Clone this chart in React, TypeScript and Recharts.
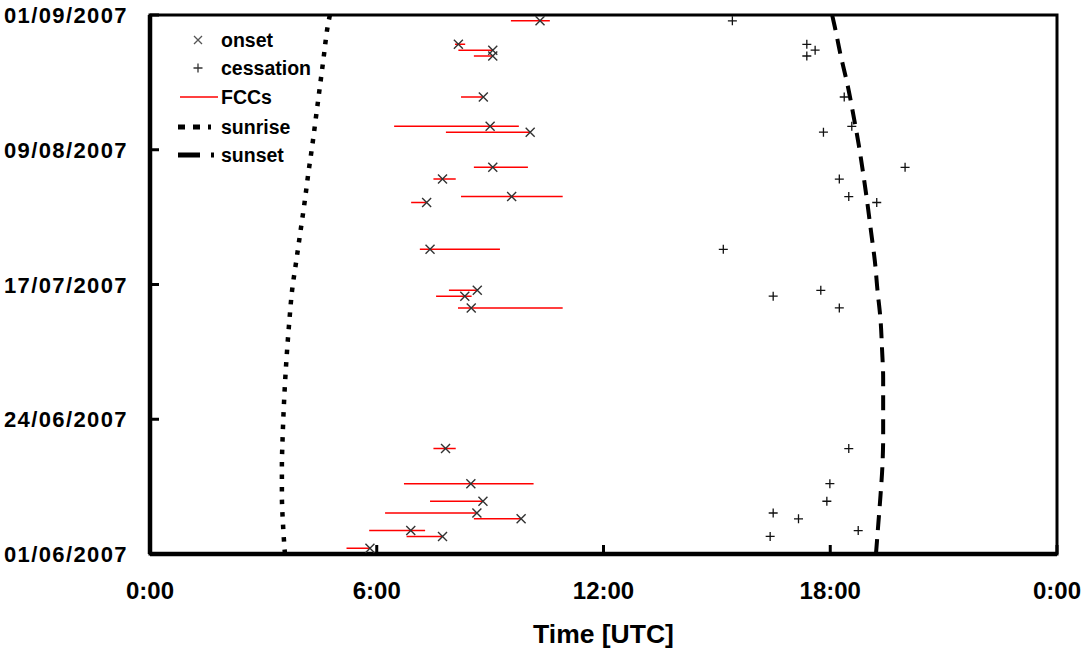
import { ComposedChart, Line, Scatter, XAxis, YAxis, ReferenceArea, Legend, Label } from "recharts";

const FONT = '"Liberation Sans", Arial, sans-serif';

// y = days since 01/06/2007, x = hour of day (UTC)
const dateTicks = [0, 23, 46, 69, 92];
const dateLabels = ["01/06/2007", "24/06/2007", "17/07/2007", "09/08/2007", "01/09/2007"];
const hourTicks = [0, 6, 12, 18, 24];
const hourLabels = ["0:00", "6:00", "12:00", "18:00", "0:00"];

// onsets and the FCC span for each day
const onsetDay = [1, 3, 4, 6, 7, 9, 12, 18, 42, 44, 45, 52, 60, 61, 64, 66, 72, 73, 78, 85, 86, 87, 91];
const onsetTime = [5.82, 7.74, 6.9, 9.82, 8.65, 8.81, 8.49, 7.82, 8.5, 8.33, 8.66, 7.41, 7.32, 9.57, 7.74, 9.07, 10.06, 9.0, 8.82, 9.07, 9.07, 8.16, 10.32];
const fccStart = [5.2, 6.79, 5.8, 8.57, 6.22, 7.41, 6.72, 7.5, 8.15, 7.57, 7.91, 7.14, 6.91, 8.23, 7.5, 8.57, 7.83, 6.46, 8.23, 8.57, 8.16, 8.07, 9.55];
const fccEnd = [5.82, 7.74, 7.28, 9.82, 8.65, 8.81, 10.15, 8.09, 10.92, 8.51, 8.66, 9.26, 7.32, 10.92, 8.09, 10.0, 10.06, 9.76, 8.82, 9.08, 9.07, 8.34, 10.58];

// cessations
const cessDay = [3, 4, 6, 7, 9, 12, 18, 42, 44, 45, 52, 60, 61, 64, 66, 72, 73, 78, 85, 86, 87, 91];
const cessTime = [16.41, 18.74, 17.16, 16.49, 17.91, 17.99, 18.49, 18.24, 16.49, 17.75, 15.17, 19.23, 18.49, 18.24, 19.98, 17.82, 18.57, 18.37, 17.38, 17.6, 17.38, 15.41];

// sunrise / sunset
const sunDay = [0, 5, 10, 15, 20, 25, 30, 35, 40, 45, 50, 55, 60, 65, 70, 75, 80, 85, 90, 92];
const sunriseTime = [3.57, 3.52, 3.49, 3.49, 3.51, 3.54, 3.58, 3.63, 3.69, 3.76, 3.87, 3.98, 4.09, 4.19, 4.3, 4.4, 4.5, 4.6, 4.7, 4.76];
const sunsetTime = [19.21, 19.27, 19.33, 19.38, 19.4, 19.4, 19.4, 19.37, 19.33, 19.25, 19.18, 19.08, 18.98, 18.87, 18.75, 18.61, 18.46, 18.28, 18.12, 18.05];

const onsetData = onsetDay.map((d, i) => ({ t: onsetTime[i], day: d }));
const fccData = onsetDay.flatMap((d, i) => [
  { t: fccStart[i], day: d },
  { t: fccEnd[i], day: d },
  { t: fccEnd[i], day: null },
]);
const cessData = cessDay.map((d, i) => ({ t: cessTime[i], day: d }));
const sunriseData = sunDay.map((d, i) => ({ t: sunriseTime[i], day: d }));
const sunsetData = sunDay.map((d, i) => ({ t: sunsetTime[i], day: d }));

const XMark = (p: any) => (
  <path d={`M${p.cx - 4.5},${p.cy - 4.5}L${p.cx + 4.5},${p.cy + 4.5}M${p.cx - 4.5},${p.cy + 4.5}L${p.cx + 4.5},${p.cy - 4.5}`} stroke="#333" strokeWidth={1.4} fill="none" />
);
const PlusMark = (p: any) => (
  <path d={`M${p.cx - 4.5},${p.cy}L${p.cx + 4.5},${p.cy}M${p.cx},${p.cy - 4.5}L${p.cx},${p.cy + 4.5}`} stroke="#111" strokeWidth={1.3} fill="none" />
);

const TimeTick = (p: any) => (
  <g>
    <line x1={p.x} y1={p.y} x2={p.x} y2={p.y - 9} stroke="#000" strokeWidth={3} />
    <text x={p.x} y={p.y + 45} textAnchor="middle" fontFamily={FONT} fontWeight="bold" fontSize={24} fill="#000">
      {hourLabels[hourTicks.indexOf(p.payload.value)]}
    </text>
  </g>
);

const DateTick = (p: any) => (
  <g>
    <line x1={p.x} y1={p.y} x2={p.x + 9} y2={p.y} stroke="#000" strokeWidth={3} />
    <text x={p.x - 22} y={p.y + 8} textAnchor="end" fontFamily={FONT} fontWeight="bold" fontSize={22} letterSpacing={1.4} fill="#000">
      {dateLabels[dateTicks.indexOf(p.payload.value)]}
    </text>
  </g>
);

const legendText = { fontFamily: FONT, fontWeight: "bold", fontSize: 19.5, fill: "#000" } as const;

const LegendBox = () => (
  <svg width={400} height={180} style={{ display: "block" }}>
    <path d="M194,36L202,44M194,44L202,36" stroke="#555" strokeWidth={1.3} />
    <text x={221} y={47} {...legendText}>onset</text>
    <path d="M193.5,68L202.5,68M198,63.5L198,72.5" stroke="#333" strokeWidth={1.3} />
    <text x={221} y={75} {...legendText}>cessation</text>
    <line x1={180} y1={97} x2={218} y2={97} stroke="#ff0000" strokeWidth={1.5} />
    <text x={221} y={104} {...legendText}>FCCs</text>
    <line x1={178} y1={127} x2={211} y2={127} stroke="#000" strokeWidth={5} strokeDasharray="7 8" />
    <text x={221} y={134} {...legendText}>sunrise</text>
    <line x1={178} y1={155} x2={214} y2={155} stroke="#000" strokeWidth={5} strokeDasharray="22 11" />
    <text x={221} y={162} {...legendText}>sunset</text>
  </svg>
);

export default function App() {
  return (
    <div style={{ position: "absolute", left: 0, top: 0, background: "#fff" }}>
      <ComposedChart width={1087} height={653} margin={{ top: 15, right: 30, bottom: 0, left: 0 }}>
        <XAxis type="number" dataKey="t" domain={[0, 24]} ticks={hourTicks} interval={0} allowDataOverflow height={99}
          axisLine={{ stroke: "#000", strokeWidth: 4.5 }} tickLine={false} tickSize={0} tickMargin={0} tick={(p: any) => <TimeTick {...p} />}>
          <Label value="Time [UTC]" position="insideBottom" offset={10} style={{ fontFamily: FONT, fontWeight: "bold", fontSize: 26.5, fill: "#000" }} />
        </XAxis>
        <YAxis type="number" dataKey="day" domain={[0, 92]} ticks={dateTicks} interval={0} allowDataOverflow width={150}
          axisLine={{ stroke: "#000", strokeWidth: 4.5 }} tickLine={false} tickSize={0} tickMargin={0} tick={(p: any) => <DateTick {...p} />} />
        <ReferenceArea x1={0} x2={24} y1={0} y2={92} fill="none" stroke="#000" strokeWidth={3} ifOverflow="visible" />
        <Line data={sunriseData} dataKey="day" type="monotoneY" stroke="#000" strokeWidth={4.5} strokeDasharray="4.5 8" dot={false} activeDot={false} isAnimationActive={false} legendType="none" />
        <Line data={sunsetData} dataKey="day" type="monotoneY" stroke="#000" strokeWidth={4} strokeDasharray="15 9" dot={false} activeDot={false} isAnimationActive={false} legendType="none" />
        <Line data={fccData} dataKey="day" type="linear" stroke="#ff0000" strokeWidth={1.5} dot={false} activeDot={false} isAnimationActive={false} legendType="none" />
        <Scatter data={onsetData} dataKey="day" shape={(p: any) => <XMark {...p} />} isAnimationActive={false} />
        <Scatter data={cessData} dataKey="day" shape={(p: any) => <PlusMark {...p} />} isAnimationActive={false} />
        <Legend verticalAlign="middle" align="center" layout="horizontal" wrapperStyle={{ left: 0, top: 0, width: 400, height: 180, pointerEvents: "none" }} content={() => <LegendBox />} />
      </ComposedChart>
    </div>
  );
}
